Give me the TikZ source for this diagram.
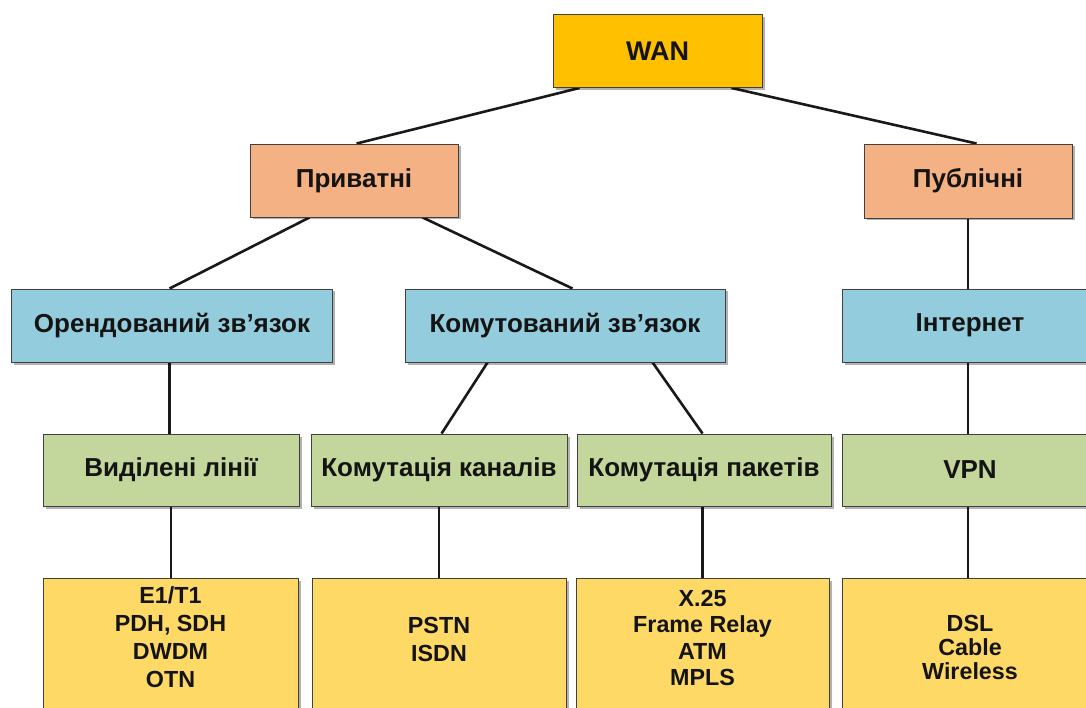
\documentclass[tikz,border=0pt]{standalone}
\usepackage{fontspec}
\setmainfont{Liberation Sans}
\usetikzlibrary{calc,shadows,backgrounds}
\definecolor{wanfill}{HTML}{FFC000}
\definecolor{salmon}{HTML}{F4B183}
\definecolor{skyfill}{HTML}{93CDDD}
\definecolor{leaf}{HTML}{C3D69B}
\definecolor{sand}{HTML}{FFD966}
\definecolor{edge}{HTML}{404040}
\begin{document}
\begin{tikzpicture}[x=1pt,y=-1pt,
  box/.style={draw=edge, line width=0.9pt, inner sep=0pt, align=center,
    text=black!92, font=\bfseries\fontsize{26}{30}\selectfont,
    drop shadow={shadow xshift=2.5pt, shadow yshift=-2.5pt, fill=black, opacity=0.3}},
  top/.style={box, fill=wanfill, font=\bfseries\fontsize{27}{30}\selectfont},
  branch/.style={box, fill=salmon},
  kind/.style={box, fill=skyfill, minimum height=73pt},
  tech/.style={box, fill=leaf, minimum height=72pt},
  list/.style={box, fill=sand, minimum height=162pt},
  listtext/.style={anchor=north, inner sep=0pt, align=center, text=black!92,
    font=\bfseries\fontsize{23.3}{28}\selectfont},
  link/.style={draw=black!90, line width=2.6pt}]
\clip (0,0) rectangle (1086,708);

% level 0
\node[top, minimum width=209pt, minimum height=73pt] (wan) at (657.5,51) {WAN};
% level 1
\node[branch, minimum width=208pt, minimum height=73pt] (priv) at (354,180.5) {Приватні};
\node[branch, minimum width=208pt, minimum height=74pt] (pub) at (968,181) {Публічні};
% level 2
\node[kind, minimum width=321pt] (lease) at (172,325.5) {Орендований зв’язок};
\node[kind, minimum width=320pt] (sw) at (565,325.5) {Комутований зв’язок};
\node[kind, minimum width=256pt] (inet) at (970,325.5) {Інтернет};
% level 3
\node[tech, minimum width=256pt] (ded) at (171,470) {Виділені лінії};
\node[tech, minimum width=256pt] (circ) at (439,470) {Комутація каналів};
\node[tech, minimum width=254pt] (pack) at (704,470) {Комутація пакетів};
\node[tech, minimum width=256pt] (vpn) at (970,470) {VPN};
% level 4
\node[list, minimum width=255pt] (y1) at (170.5,659) {};
\node[list, minimum width=254pt] (y2) at (439,659) {};
\node[list, minimum width=253pt] (y3) at (702.5,659) {};
\node[list, minimum width=256pt] (y4) at (970,659) {};
\node[listtext] (t1) at ($(y1.north)+(0,9)$) {E1/T1\\PDH, SDH\\DWDM\\OTN};
\node[listtext] (t2) at ($(y2.north)+(0,39)$) {PSTN\\ISDN};
\node[listtext, font=\bfseries\fontsize{23.3}{26.5}\selectfont] (t3) at ($(y3.north)+(0,12)$) {X.25\\Frame Relay\\ATM\\MPLS};
\node[listtext, font=\bfseries\fontsize{23.3}{24}\selectfont] (t4) at ($(y4.north)+(0,37)$) {DSL\\Cable\\Wireless};

% white page and connectors behind the boxes
\begin{scope}[on background layer]
\fill[white] (0,0) rectangle (1086,708);
\draw[link] ($(wan.south west)+(27,0)$) -- ($(priv.north west)+(107,0)$);
\draw[link] ($(wan.south east)+(-31,0)$) -- ($(pub.north west)+(113,0)$);
\draw[link] ($(priv.south west)+(60,0)$) -- ($(lease.north west)+(158.5,0)$);
\draw[link] ($(priv.south west)+(173,0)$) -- ($(sw.north west)+(168,0)$);
\draw[link] ($(lease.south west)+(158.5,0)$) -- ($(ded.north west)+(127,0)$);
\draw[link] ($(sw.south west)+(83,0)$) -- ($(circ.north west)+(131,0)$);
\draw[link] ($(sw.south west)+(248,0)$) -- ($(pack.north west)+(126,0)$);
\draw[link] (pub.south) -- (pub.south |- inet.north);
\draw[link] (pub.south |- inet.south) -- (pub.south |- vpn.north);
\draw[link] (ded.south) -- (ded.south |- y1.north);
\draw[link] (circ.south) -- (circ.south |- y2.north);
\draw[link] (y3.north |- pack.south) -- (y3.north);
\draw[link] (pub.south |- vpn.south) -- (pub.south |- y4.north);
\end{scope}
\end{tikzpicture}
\end{document}
